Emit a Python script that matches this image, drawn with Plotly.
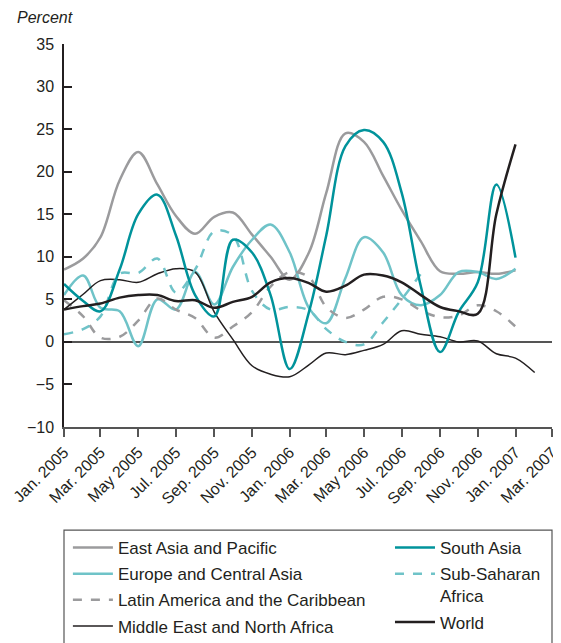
import pandas as pd
import plotly.graph_objects as go


MONTHS = pd.date_range("2005-01-01", periods=26, freq="MS")

TICK_LABELS = [
    "Jan. 2005", "Mar. 2005", "May 2005", "Jul. 2005", "Sep. 2005", "Nov. 2005",
    "Jan. 2006", "Mar. 2006", "May 2006", "Jul. 2006", "Sep. 2006", "Nov. 2006",
    "Jan. 2007", "Mar. 2007",
]

# monthly growth, percent
east_asia = [8.5, 9.8, 12.3, 19.0, 22.3, 18.5, 14.8, 12.7, 14.7, 15.2, 12.6, 10.0, 7.3,
             10.5, 17.5, 24.5, 23.5, 19.5, 15.5, 11.8, 8.3, 8.0, 8.2, 8.0, 8.4]
europe_central_asia = [5.5, 7.8, 4.0, 3.6, -0.5, 5.0, 3.8, 8.2, 4.4, 8.8, 12.0, 13.8, 10.5,
                       4.0, 2.2, 7.5, 12.3, 10.5, 5.5, 4.3, 5.5, 8.2, 8.2, 7.4, 8.6]
latin_america = [4.9, 3.0, 0.5, 0.6, 2.5, 5.1, 3.8, 2.8, 0.5, 1.8, 3.5, 6.5, 8.2,
                 7.6, 4.1, 2.8, 3.8, 5.3, 5.0, 3.7, 2.9, 3.1, 4.3, 3.6, 1.8]
middle_east = [3.8, 5.6, 7.2, 7.3, 7.0, 8.0, 8.6, 8.2, 3.5, 0.3, -2.8, -3.8, -4.1,
               -2.7, -1.3, -1.5, -1.0, -0.3, 1.3, 0.9, 0.6, 0.0, 0.1, -1.4, -1.9, -3.6]
south_asia = [6.8, 4.8, 3.6, 8.5, 15.0, 17.3, 12.5, 5.5, 3.0, 12.0, 10.5, 5.5, -3.2,
              3.5, 12.5, 23.0, 24.9, 23.5, 17.5, 6.5, -1.2, 3.5, 7.0, 18.5, 9.9]
sub_saharan = [0.9, 1.5, 3.0, 8.0, 8.1, 9.8, 5.8, 8.5, 13.0, 12.5, 6.0, 3.8, 4.1,
               3.7, 1.5, 0.0, -0.3, 2.3, 5.0, 8.0]
world = [3.8, 4.2, 4.5, 5.2, 5.5, 5.5, 4.8, 4.9, 4.0, 4.7, 5.3, 7.0, 7.5,
         6.9, 5.9, 6.6, 7.9, 7.8, 7.0, 5.5, 4.1, 3.6, 3.3, 15.0, 23.2]

GRAY = "#9b9b9d"
TEAL = "#00939b"
LIGHT_TEAL = "#6fc3c8"
BLACK = "#231f20"
FONT = "Liberation Sans, Arial, sans-serif"

series = [
    # name, values, colour, width, dash, legend, rank
    ("East Asia and Pacific", east_asia, GRAY, 2.5, "solid", "legend", 1),
    ("Europe and Central Asia", europe_central_asia, LIGHT_TEAL, 2.5, "solid", "legend", 2),
    ("Latin America and the Caribbean", latin_america, GRAY, 2.5, "dash", "legend", 3),
    ("Middle East and North Africa", middle_east, BLACK, 1.5, "solid", "legend", 4),
    ("Sub-Saharan<br>Africa", sub_saharan, LIGHT_TEAL, 2.5, "dash", "legend2", 2),
    ("South Asia", south_asia, TEAL, 2.5, "solid", "legend2", 1),
    ("World", world, BLACK, 2.5, "solid", "legend2", 3),
]

fig = go.Figure()
for i, (name, values, color, width, dash, legend, rank) in enumerate(series):
    fig.add_trace(
        go.Scatter(
            x=MONTHS[: len(values)],
            y=values,
            name=name,
            mode="lines",
            line=dict(color=color, width=width, dash=dash, shape="spline", smoothing=1),
            legend=legend,
            legendgroup=f"g{i}",
            legendrank=rank,
        )
    )

tick_dates = list(MONTHS[::2]) + [MONTHS[-1] + pd.DateOffset(months=1)]

legend_style = dict(
    yanchor="top", xanchor="left",
    font=dict(size=17), tracegroupgap=1, valign="top",
    itemwidth=40, bgcolor="rgba(0,0,0,0)",
)

# the page body adds an 8px offset, so the figure is 8px smaller
fig.update_layout(
    width=553,
    height=635,
    template="plotly_white",
    plot_bgcolor="white",
    paper_bgcolor="white",
    font=dict(family=FONT, size=15, color=BLACK),
    margin=dict(l=56, r=9, t=36, b=216, autoexpand=False),
    showlegend=True,
    legend=dict(x=0.008, y=-0.269, **legend_style),
    legend2=dict(x=0.668, y=-0.269, **legend_style),
    xaxis=dict(
        range=[MONTHS[0], tick_dates[-1]],
        tickvals=tick_dates,
        ticktext=TICK_LABELS,
        tickangle=-45,
        ticks="outside",
        ticklen=8,
        tickcolor="#555",
        tickwidth=1.5,
        showline=True,
        linecolor="#555",
        linewidth=1.5,
        showgrid=False,
        zeroline=False,
        automargin=False,
        tickfont=dict(size=16, color=BLACK),
    ),
    xaxis2=dict(
        overlaying="x",
        matches="x",
        anchor="y",
        side="bottom",
        tickvals=tick_dates,
        ticks="inside",
        ticklen=8,
        tickcolor="#555",
        tickwidth=1.5,
        showticklabels=False,
        showgrid=False,
        zeroline=False,
    ),
    yaxis=dict(
        range=[-10, 35],
        dtick=5,
        ticks="inside",
        ticklen=8,
        tickcolor=BLACK,
        tickwidth=1.5,
        showline=True,
        linecolor=BLACK,
        linewidth=1.5,
        showgrid=False,
        zeroline=True,
        zerolinecolor="#555",
        zerolinewidth=1.5,
        automargin=False,
        tickfont=dict(size=16, color=BLACK),
        ticklabelstandoff=5,
    ),
)

fig.add_annotation(
    text="<i>Percent</i>",
    xref="paper", yref="paper",
    x=-0.1, y=1.068,
    xanchor="left", yanchor="middle",
    showarrow=False,
    font=dict(size=16, color=BLACK),
)

# legend frame
fig.add_shape(
    type="rect", xref="paper", yref="paper",
    x0=0, x1=1, y0=-0.75, y1=-0.269,
    line=dict(color="#555", width=1.2),
    fillcolor="rgba(0,0,0,0)",
)

fig.write_html("out.html")
